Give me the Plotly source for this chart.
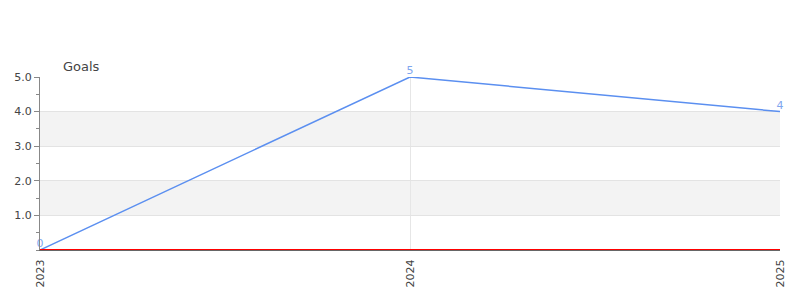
import plotly.graph_objects as go

years = ["2023", "2024", "2025"]
goals = [0, 5, 4]
y_tick_vals = [1, 2, 3, 4, 5]
y_tick_text = ["1.0", "2.0", "3.0", "4.0", "5.0"]
bands = [(1, 2), (3, 4)]

line_color = "#5b8ff0"
font_family = "DejaVu Sans"

fig = go.Figure()
fig.add_trace(go.Scatter(
    x=[int(y) for y in years], y=goals, mode="lines+text",
    text=[str(v) for v in goals], textposition="top center",
    textfont=dict(color="#7fa6ee", size=11, family=font_family),
    line=dict(color=line_color, width=1.5),
    cliponaxis=False, hoverinfo="skip",
))

for lo, hi in bands:
    fig.add_shape(type="rect", xref="paper", yref="y", x0=0, x1=1, y0=lo, y1=hi,
                  fillcolor="#f3f3f3", line_width=0, layer="below")

# red zero line just above the axis line
fig.add_shape(type="line", xref="paper", yref="y", x0=0, x1=1,
              ysizemode="pixel", yanchor=0, y0=0.5, y1=0.5,
              line=dict(color="red", width=1), layer="above")

fig.add_annotation(text="Goals", xref="paper", yref="paper", x=0.028, y=1.0,
                   xanchor="left", yanchor="bottom", showarrow=False,
                   font=dict(size=13, color="#444", family=font_family), yshift=1)

fig.update_layout(
    width=800, height=300,
    margin=dict(l=40, r=20, t=77, b=50),
    plot_bgcolor="white", paper_bgcolor="white",
    showlegend=False,
    font=dict(family=font_family, size=11, color="#444"),
    xaxis=dict(
        range=[2023, 2025], tickvals=[int(y) for y in years], ticktext=years,
        tickangle=-90, showgrid=True, gridcolor="#e6e6e6", gridwidth=1,
        showline=True, linecolor="#666", linewidth=1, zeroline=False,
        ticks="", ticklabelstandoff=4,
    ),
    yaxis=dict(
        range=[0, 5], tickvals=y_tick_vals, ticktext=y_tick_text,
        showgrid=True, gridcolor="#e3e3e3", gridwidth=1,
        showline=True, linecolor="#888", linewidth=1,
        zeroline=False,
        ticks="outside", ticklen=5, tickcolor="#888",
        minor=dict(dtick=0.5, tick0=0, ticks="outside", ticklen=3, tickcolor="#888", showgrid=False),
    ),
)

fig.write_html("out.html")
